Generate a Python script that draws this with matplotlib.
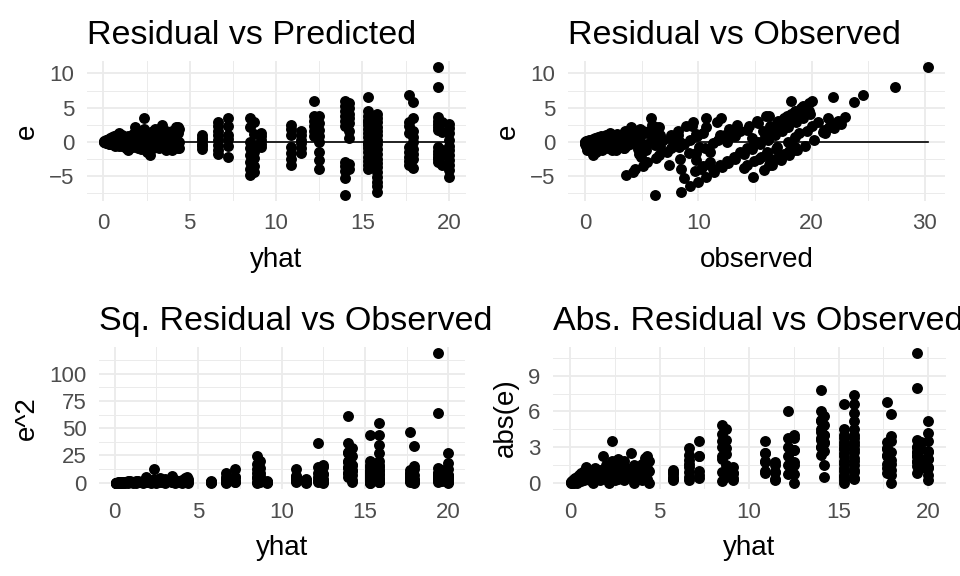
import matplotlib
matplotlib.use('Agg')
import matplotlib.pyplot as plt
from matplotlib.ticker import MultipleLocator
import numpy as np

plt.rcParams['font.family'] = ['Liberation Sans', 'DejaVu Sans']

# fitted values (one entry per column of points) and the residuals in that column
yhat_levels = [0.05, 0.1, 0.15, 0.2, 0.3, 0.4, 0.5, 0.6, 0.7, 0.8, 0.9, 1.0, 1.1,
               1.3, 1.4, 1.5, 1.7, 1.86, 2.0, 2.2, 2.35, 2.5, 2.7, 2.9, 3.0, 3.2,
               3.4, 3.6, 3.8, 4.0, 4.2, 4.3, 4.4,
               5.74, 6.64, 7.2, 8.5, 8.7, 9.1, 10.87, 11.45, 12.2, 12.5,
               14.0, 14.2, 15.3, 15.85, 17.7, 17.95, 19.36, 19.6, 20.0]
resid_groups = [
    [0.0, -0.05, 0.05], [0.1, -0.1, 0.0], [0.2, -0.15], [0.3, -0.2, 0.0],
    [0.4, -0.3, 0.1], [0.5, -0.3, 0.0], [0.6, -0.4, 0.2], [0.8, -0.5, 0.1],
    [0.5, -0.6, 0.3], [1.0, -0.5, 0.2], [1.3, -0.7, 0.4], [0.7, -0.3],
    [0.9, -0.6, 0.2], [0.5, -1.0, 0.0], [0.8, -1.2], [0.6, -0.4],
    [1.1, -0.8, 0.2], [2.2, 0.6, -0.5], [1.5, -0.9, 0.3], [1.2, 0.0, -1.1],
    [3.5, 1.8, 0.5, -0.8], [1.4, -0.2, -1.5], [1.0, -2.0, -1.2, 0.3],
    [1.6, 0.5, -0.9], [1.8, -0.6, 0.2], [1.2, -1.0], [2.5, 0.8, -0.5],
    [1.5, 0.0, -1.2], [1.0, -0.8, 0.4], [1.6, -1.3, 0.2], [2.1, 0.6, -0.6],
    [2.2, 1.2, -0.3, -0.9], [1.8, 0.0, -1.0],
    [0.9, 0.5, 0.2, -0.3, -0.7, -1.1],
    [2.9, 2.3, 1.6, 0.9, 0.2, -0.5, -1.3, -1.9],
    [3.5, 2.25, 1.0, 0.4, -0.6, -2.25],
    [3.5, 2.2, -0.1, -0.9, -2.0, -3.0, -4.1, -4.9],
    [2.9, 1.1, -0.5, -1.5, -2.4, -3.6, -4.5],
    [1.3, 0.8, 0.2, -0.4, -0.8],
    [2.5, 1.8, 1.0, -0.8, -1.7, -2.5, -3.5],
    [1.5, 0.9, 0.3, -0.2, -0.9, -1.7],
    [6.0, 3.75, 3.0, 2.25, 1.5, 0.75],
    [3.75, 2.75, 1.75, 0.75, 0.0, -1.5, -2.75, -4.0],
    [6.0, 5.2, 4.5, 3.8, 3.0, 2.3, -3.0, -3.6, -4.3, -5.3, -7.8],
    [5.6, 4.9, 4.0, 3.4, 2.7, 1.5, 0.5, -3.3, -4.0],
    [6.6, 4.5, 3.8, 3.2, 2.9, 2.5, 1.8, 1.2, 0.6, 0.0, -0.2, -0.5, -1.0,
     -1.6, -2.2, -2.8, -3.4, -4.0],
    [4.0, 3.4, 2.8, 2.1, 1.5, 0.9, 0.3, -0.4, -1.1, -1.8, -2.6, -3.2, -3.8,
     -4.5, -5.2, -5.9, -6.6, -7.4],
    [6.8, 2.9, 2.3, 1.2, -0.8, -1.6, -2.2, -2.8, -3.4],
    [5.8, 3.5, 1.6, 0.6, 0.0, -1.1, -1.9, -2.6, -3.9],
    [10.9, 8.0, 3.6, 3.0, 2.6, 2.2, 1.7, -0.8, -1.4, -1.8, -2.2, -2.6, -3.0],
    [2.8, 1.4, -1.2, -2.0, -3.4],
    [2.6, 2.0, 1.2, 0.2, -0.6, -1.3, -2.0, -2.7, -3.5, -4.2, -5.2],
]

yhat = np.concatenate([np.full(len(g), lv) for lv, g in zip(yhat_levels, resid_groups)])
e = np.concatenate([np.array(g, dtype=float) for g in resid_groups])
observed = yhat + e

GRID = '#EBEBEB'
TXT = '#4D4D4D'


def panel(fig, rect, x, y, title, xlab, ylab, xstep, ystep, zero_line=False):
    ax = fig.add_axes(rect)
    ax.scatter(x, y, s=62, c='black', linewidths=0, zorder=3)
    if zero_line:
        ax.plot([x.min(), x.max()], [0, 0], color='black', lw=1.2, zorder=2)
    rx = x.max() - x.min()
    ry = y.max() - y.min()
    ax.set_xlim(x.min() - 0.05 * rx, x.max() + 0.05 * rx)
    ax.set_ylim(y.min() - 0.05 * ry, y.max() + 0.05 * ry)
    ax.xaxis.set_major_locator(MultipleLocator(xstep))
    ax.xaxis.set_minor_locator(MultipleLocator(xstep / 2))
    ax.yaxis.set_major_locator(MultipleLocator(ystep))
    ax.yaxis.set_minor_locator(MultipleLocator(ystep / 2))
    ax.grid(which='major', color=GRID, lw=1.3)
    ax.grid(which='minor', color=GRID, lw=0.7)
    ax.set_axisbelow(True)
    for s in ax.spines.values():
        s.set_visible(False)
    ax.tick_params(which='both', length=0, labelsize=16, colors=TXT)
    ax.tick_params(axis='x', pad=9)
    ax.tick_params(axis='y', pad=9)
    ax.set_xlabel(xlab, fontsize=20, labelpad=9)
    ax.set_ylabel(ylab, fontsize=20, labelpad=7)
    ax.set_title(title, loc='left', fontsize=24.5, pad=12)
    return ax


fig = plt.figure(figsize=(9.6, 5.76), dpi=100)
W, H = 960, 576


def rect(l, t, r, b):
    return [l / W, 1 - b / H, (r - l) / W, (b - t) / H]


panel(fig, rect(87, 61, 466, 201), yhat, e, 'Residual vs Predicted', 'yhat', 'e', 5, 5, True)
panel(fig, rect(568, 61, 945, 201), observed, e, 'Residual vs Observed', 'observed', 'e', 10, 5, True)
panel(fig, rect(99, 347, 465, 489), yhat, e ** 2, 'Sq. Residual vs Observed', 'yhat', 'e^2', 5, 25)
panel(fig, rect(553, 347, 946, 489), yhat, np.abs(e), 'Abs. Residual vs Observed', 'yhat', 'abs(e)', 5, 3)

fig.savefig('out.png', dpi=100)
